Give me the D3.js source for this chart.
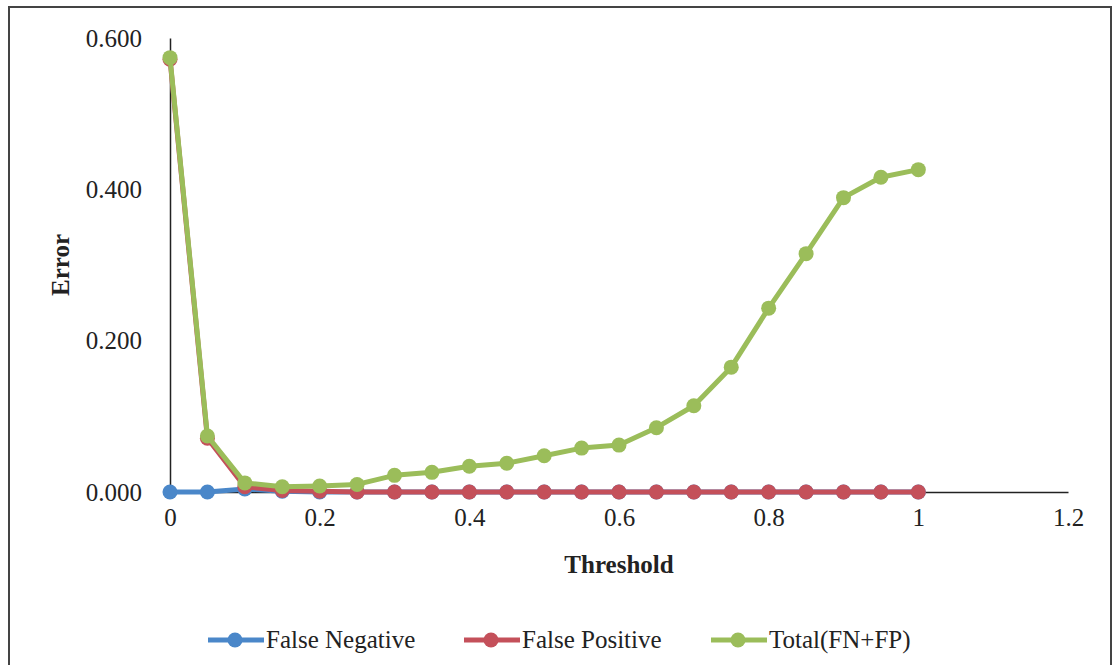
<!DOCTYPE html>
<html lang="en">
<head>
<meta charset="UTF-8">
<title>Error vs Threshold</title>
<script src="https://d3js.org/d3.v7.min.js"></script>
<style>
    body { margin: 0; background: #fff; }
    svg { display: block; }
</style>
</head>
<body>
<div id="chart"></div>
<script>
    // data
    var thresholds = [0, 0.05, 0.1, 0.15, 0.2, 0.25, 0.3, 0.35, 0.4, 0.45, 0.5,
        0.55, 0.6, 0.65, 0.7, 0.75, 0.8, 0.85, 0.9, 0.95, 1];
    var falseNegative = [0, 0, 0.004, 0.001, 0, 0, 0, 0, 0, 0, 0,
        0, 0, 0, 0, 0, 0, 0, 0, 0, 0];
    var falsePositive = [0.572, 0.071, 0.007, 0.002, 0.001, 0, 0, 0, 0, 0, 0,
        0, 0, 0, 0, 0, 0, 0, 0, 0, 0];
    var total = [0.574, 0.074, 0.012, 0.007, 0.008, 0.010, 0.022, 0.026, 0.034, 0.038, 0.048,
        0.058, 0.062, 0.085, 0.114, 0.165, 0.243, 0.315, 0.389, 0.416, 0.426];
    var xTicks = [0, 0.2, 0.4, 0.6, 0.8, 1, 1.2];
    var yTicks = [0, 0.2, 0.4, 0.6];

    var series = [
        { name: 'False Negative', values: falseNegative, color: '#4a87c9' },
        { name: 'False Positive', values: falsePositive, color: '#c4505a' },
        { name: 'Total(FN+FP)', values: total, color: '#9bbd5a' }
    ];

    var serif = '"Liberation Serif", "Times New Roman", serif';
    var width = 1114, height = 665;
    var svg = d3.select('#chart').append('svg')
        .attr('width', width)
        .attr('height', height);

    // outer frame
    svg.append('rect')
        .attr('x', 9).attr('y', 7)
        .attr('width', 1102).attr('height', 700)
        .attr('fill', 'none')
        .attr('stroke', '#444')
        .attr('stroke-width', 2);

    var x = d3.scaleLinear().domain([0, 1.2]).range([170, 1068]);
    var y = d3.scaleLinear().domain([0, 0.6]).range([492, 38]);

    // axes
    var xAxis = d3.axisBottom(x).tickValues(xTicks).tickSize(0).tickPadding(16)
        .tickFormat(function (d) { return d3.format('')(d); });
    var gx = svg.append('g').attr('transform', 'translate(0,' + y(0) + ')').call(xAxis);
    gx.select('.domain').attr('stroke', '#222').attr('stroke-width', 1.5);
    gx.selectAll('text').attr('font-size', 25).attr('font-family', serif).attr('fill', '#222');

    var yAxis = d3.axisLeft(y).tickValues(yTicks).tickSize(0).tickPadding(28)
        .tickFormat(d3.format('.3f'));
    var gy = svg.append('g').attr('transform', 'translate(' + x(0) + ',0)').call(yAxis);
    gy.select('.domain').attr('stroke', '#222').attr('stroke-width', 1.5);
    gy.selectAll('text').attr('font-size', 25).attr('font-family', serif).attr('fill', '#222');

    // axis titles
    svg.append('text')
        .attr('x', 619).attr('y', 573)
        .attr('text-anchor', 'middle')
        .attr('font-family', serif)
        .attr('font-size', 25).attr('font-weight', 'bold').attr('fill', '#222')
        .text('Threshold');

    svg.append('text')
        .attr('transform', 'translate(69,265) rotate(-90)')
        .attr('text-anchor', 'middle')
        .attr('font-family', serif)
        .attr('font-size', 25).attr('font-weight', 'bold').attr('fill', '#222')
        .text('Error');

    // lines and markers
    var line = d3.line()
        .x(function (d, i) { return x(thresholds[i]); })
        .y(function (d) { return y(d); });

    series.forEach(function (s) {
        var g = svg.append('g');
        g.append('path')
            .datum(s.values)
            .attr('d', line)
            .attr('fill', 'none')
            .attr('stroke', s.color)
            .attr('stroke-width', 5)
            .attr('stroke-linejoin', 'round');
        g.selectAll('circle')
            .data(s.values)
            .enter()
            .append('circle')
            .attr('cx', function (d, i) { return x(thresholds[i]); })
            .attr('cy', function (d) { return y(d); })
            .attr('r', 7.5)
            .attr('fill', s.color);
    });

    // legend
    var legendX = [208, 464, 711];
    var legend = svg.append('g').selectAll('g')
        .data(series)
        .enter()
        .append('g')
        .attr('transform', function (d, i) { return 'translate(' + legendX[i] + ',640)'; });
    legend.append('line')
        .attr('x1', 0).attr('x2', 56)
        .attr('stroke', function (d) { return d.color; })
        .attr('stroke-width', 5);
    legend.append('circle')
        .attr('cx', 27).attr('r', 7.5)
        .attr('fill', function (d) { return d.color; });
    legend.append('text')
        .attr('x', 58).attr('y', 8)
        .attr('font-family', serif)
        .attr('font-size', 25).attr('fill', '#222')
        .text(function (d) { return d.name; });
</script>
</body>
</html>
